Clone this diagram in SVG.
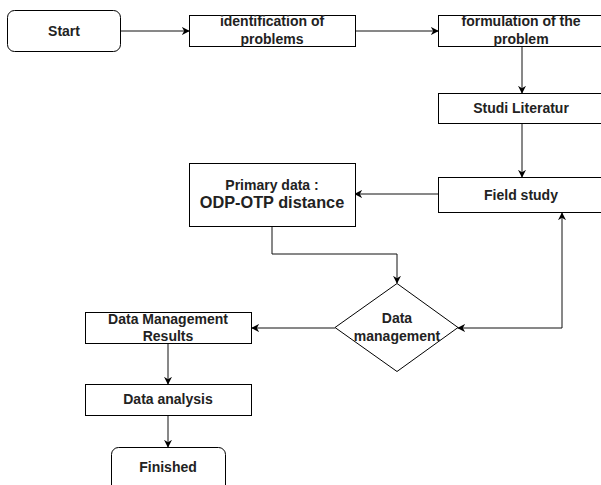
<svg xmlns="http://www.w3.org/2000/svg" width="601" height="485" viewBox="0 0 601 485">
<style>
.box{fill:#fff;stroke:#000;stroke-width:1}
.t{font-family:"Liberation Sans",Arial,sans-serif;font-weight:bold;font-size:14px;fill:#222;text-anchor:middle}
.big{font-size:16.3px}
.c{fill:none;stroke:#111;stroke-width:1}
</style>
<defs>
<marker id="arr" viewBox="0 0 10 10" refX="9" refY="5" markerWidth="8" markerHeight="8" markerUnits="userSpaceOnUse" orient="auto-start-reverse">
<path d="M0,0 L10,5 L0,10 L3,5 Z" fill="#000"/>
</marker>
</defs>
<rect width="601" height="485" fill="#fff"/>
<g id="connectors">
<path class="c" d="M121,31 H189" marker-end="url(#arr)"/>
<path class="c" d="M355,31 H438" marker-end="url(#arr)"/>
<path class="c" d="M522,47 V93" marker-end="url(#arr)"/>
<path class="c" d="M522,123 V177" marker-end="url(#arr)"/>
<path class="c" d="M438,194 H355" marker-end="url(#arr)"/>
<path class="c" d="M272,226 V254 H397 V283" marker-end="url(#arr)"/>
<path class="c" d="M335,328 H252" marker-end="url(#arr)"/>
<path class="c" d="M458,328 H562 V213" stroke="#555" marker-start="url(#arr)" marker-end="url(#arr)"/>
<path class="c" d="M168,343 V384" marker-end="url(#arr)"/>
<path class="c" d="M168,415 V447" marker-end="url(#arr)"/>
</g>
<g id="start">
<rect class="box" x="7.5" y="10.5" width="113" height="41" rx="7"/>
<text class="t" x="64" y="36">Start</text>
</g>
<g id="identification">
<rect class="box" x="189.5" y="15.5" width="166" height="31"/>
<text class="t" x="272" y="26">identification of</text>
<text class="t" x="272" y="44">problems</text>
</g>
<g id="formulation">
<rect class="box" x="438.5" y="15.5" width="166" height="31"/>
<text class="t" x="521" y="26">formulation of the</text>
<text class="t" x="521" y="44">problem</text>
</g>
<g id="studi">
<rect class="box" x="438.5" y="93.5" width="166" height="30"/>
<text class="t" x="521" y="113">Studi Literatur</text>
</g>
<g id="field">
<rect class="box" x="438.5" y="177.5" width="166" height="35"/>
<text class="t" x="521" y="200">Field study</text>
</g>
<g id="primary">
<rect class="box" x="189.5" y="163.5" width="166" height="63"/>
<text class="t" x="272" y="190">Primary data :</text>
<text class="t big" x="272" y="208">ODP-OTP distance</text>
</g>
<g id="datamgmt">
<path class="box" d="M397,283.5 L458,327.5 L397,371.5 L335,327.5 Z"/>
<text class="t" x="397" y="323">Data</text>
<text class="t" x="397" y="341">management</text>
</g>
<g id="results">
<rect class="box" x="85.5" y="312.5" width="166" height="31"/>
<text class="t" x="168" y="324">Data Management</text>
<text class="t" x="168" y="341">Results</text>
</g>
<g id="analysis">
<rect class="box" x="85.5" y="384.5" width="166" height="31"/>
<text class="t" x="168" y="404">Data analysis</text>
</g>
<g id="finished">
<rect class="box" x="111.5" y="447.5" width="114" height="50" rx="7"/>
<text class="t" x="168" y="472">Finished</text>
</g>
</svg>
